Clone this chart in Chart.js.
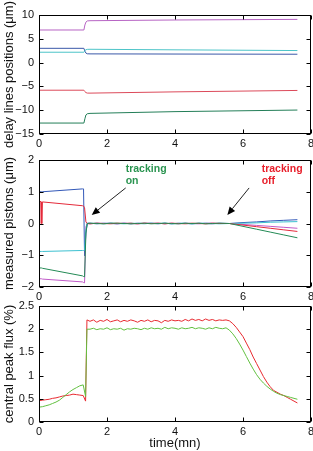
<!DOCTYPE html>
<html>
<head>
<meta charset="utf-8">
<script src="https://cdn.jsdelivr.net/npm/chart.js@4"></script>
<style>
  html, body { margin: 0; padding: 0; background: #fff; }
  #wrap { position: relative; width: 313px; height: 451px; overflow: hidden; }
  canvas { position: absolute; left: 0; }
</style>
</head>
<body>
<div id="wrap">
  <canvas id="delay" width="313" height="150" style="top:0"></canvas>
  <canvas id="piston" width="313" height="150" style="top:150px"></canvas>
  <canvas id="flux" width="313" height="151" style="top:300px"></canvas>
</div>
<script>
// --- panel 1: delay lines positions (um)
const delayTime = [0, 1.32, 1.35, 1.38, 1.42, 1.5, 4.0, 7.6];
const delayPurple = [6.85, 6.85, 7.9, 8.5, 8.75, 8.8, 8.95, 9.08];
const delayBlue = [3.0, 3.0, 2.4, 2.0, 1.85, 1.83, 1.8, 1.76];
const delayCyan = [2.18, 2.18, 2.5, 2.7, 2.78, 2.8, 2.68, 2.53];
const delayRed = [-5.8, -5.8, -6.1, -6.3, -6.4, -6.41, -6.15, -5.85];
const delayGreen = [-12.7, -12.7, -11.8, -11.0, -10.75, -10.67, -10.3, -9.97];

// --- panel 2: measured pistons (um)
const pistonTime = [0, 0.02, 0.03, 0.07, 0.08, 0.1, 1.28, 1.31, 1.34, 1.38, 1.42,
  1.5, 1.7, 1.9, 2.1, 2.3, 2.5, 2.7, 2.9, 3.1, 3.3, 3.5, 3.7, 3.9, 4.1, 4.3, 4.5, 4.7, 4.9, 5.1, 5.3,
  5.6, 6.0, 6.4, 6.8, 7.2, 7.6];
const pistonBlue = [1.0, 1.0, 1.0, 1.0, 1.0, 1.0, 1.09, 1.09, -1.02, -0.3, 0.01,
  0.01, -0.01, 0.01, 0.0, -0.01, 0.01, -0.01, 0.01, 0.0, 0.01, -0.01, 0.01, -0.01, 0.01, 0.0, -0.01, 0.01, 0.0, -0.01, 0.01,
  0.0, 0.03, 0.05, 0.08, 0.1, 0.12];
const pistonRed = [0.7, 0.0, 0.7, 0.68, 0.0, 0.68, 0.56, 0.55, 0.5, 0.05, 0.0,
  -0.01, 0.01, 0.0, -0.01, 0.01, 0.0, 0.01, -0.01, 0.01, 0.0, 0.01, -0.01, 0.01, 0.0, -0.01, 0.01, 0.0, -0.01, 0.01, 0.0,
  0.0, -0.05, -0.1, -0.15, -0.2, -0.25];
const pistonCyan = [-0.88, -0.88, -0.88, -0.88, -0.88, -0.88, -0.85, -0.85, -0.84, -0.2, 0.0,
  0.0, 0.01, -0.01, 0.01, 0.0, -0.01, 0.01, 0.0, -0.01, 0.01, 0.0, 0.01, -0.01, 0.0, 0.01, -0.01, 0.0, 0.01, 0.0, -0.01,
  0.0, 0.01, 0.02, 0.04, 0.05, 0.06];
const pistonGreen = [-1.4, -1.4, -1.4, -1.4, -1.4, -1.41, -1.65, -1.67, -1.68, -0.3, 0.0,
  0.01, 0.0, -0.01, 0.01, 0.01, 0.0, -0.01, 0.0, 0.01, -0.01, 0.0, 0.01, 0.0, -0.01, 0.01, 0.0, 0.01, -0.01, 0.0, 0.01,
  0.0, -0.09, -0.18, -0.27, -0.36, -0.45];
const pistonPurple = [-1.74, -1.74, -1.74, -1.74, -1.74, -1.75, -1.84, -1.86, -1.87, -0.1, 0.0,
  -0.01, 0.01, 0.0, 0.01, -0.01, 0.01, 0.0, -0.01, 0.01, 0.0, 0.01, -0.01, 0.01, -0.01, 0.01, 0.0, -0.01, 0.01, 0.01, 0.0,
  0.0, -0.03, -0.06, -0.09, -0.12, -0.15];

// --- panel 3: central peak flux (%)
const fluxTime = [0, 0.1, 0.2, 0.3, 0.4, 0.5, 0.6, 0.7, 0.8, 0.9, 1.0, 1.1, 1.2, 1.3, 1.37, 1.41,
  1.5, 1.6, 1.7, 1.8, 1.9, 2.0, 2.1, 2.2, 2.3, 2.4, 2.5, 2.6, 2.7, 2.8, 2.9, 3.0, 3.1, 3.2, 3.3, 3.4,
  3.5, 3.6, 3.7, 3.8, 3.9, 4.0, 4.1, 4.2, 4.3, 4.4, 4.5, 4.6, 4.7, 4.8, 4.9, 5.0, 5.1, 5.2, 5.3, 5.4, 5.5,
  5.6, 5.7, 5.8, 5.9, 6.0, 6.1, 6.2, 6.3, 6.4, 6.5, 6.6, 6.7, 6.8, 6.9, 7.0, 7.1, 7.2, 7.3, 7.4, 7.5, 7.6];
const fluxRed = [0.46, 0.47, 0.48, 0.49, 0.51, 0.52, 0.54, 0.56, 0.57, 0.58, 0.60, 0.59, 0.58, 0.57, 0.45, 2.20,
  2.17, 2.20, 2.15, 2.19, 2.17, 2.21, 2.16, 2.18, 2.20, 2.16, 2.19, 2.17, 2.20, 2.18, 2.15, 2.19, 2.17, 2.20, 2.16, 2.19,
  2.18, 2.14, 2.19, 2.17, 2.20, 2.18, 2.19, 2.17, 2.21, 2.18, 2.22, 2.19, 2.21, 2.18, 2.22, 2.19, 2.21, 2.18, 2.20, 2.19, 2.20,
  2.18, 2.12, 2.04, 1.94, 1.84, 1.70, 1.56, 1.40, 1.26, 1.12, 0.98, 0.86, 0.76, 0.68, 0.64, 0.60, 0.57, 0.53, 0.49, 0.45, 0.41];
const fluxGreen = [0.32, 0.33, 0.35, 0.37, 0.40, 0.43, 0.47, 0.53, 0.59, 0.65, 0.70, 0.74, 0.78, 0.80, 0.55, 2.00,
  2.00, 2.02, 1.99, 2.01, 2.00, 2.03, 1.99, 2.01, 2.00, 2.02, 1.98, 2.01, 2.00, 2.02, 2.01, 1.99, 2.02, 2.00, 2.03, 2.01,
  2.02, 2.00, 2.04, 2.01, 2.03, 2.02, 2.00, 2.03, 2.01, 2.02, 2.04, 2.01, 2.03, 2.02, 2.00, 2.03, 2.01, 2.04, 2.02, 2.01, 2.03,
  1.98, 1.90, 1.80, 1.68, 1.55, 1.41, 1.27, 1.14, 1.02, 0.92, 0.84, 0.77, 0.71, 0.66, 0.62, 0.59, 0.57, 0.55, 0.53, 0.51, 0.49];

const FONT = "'Liberation Sans', Arial, Helvetica, sans-serif";
const INK = '#111';

function pts(xs, ys) {
  return xs.map((x, i) => ({ x, y: ys[i] }));
}

function line(xs, ys, color) {
  return {
    data: pts(xs, ys),
    borderColor: color,
    borderWidth: 1,
    pointRadius: 0,
    tension: 0,
    fill: false,
  };
}

function fmt(v) {
  return String(v).replace('-', '\u2212');
}

// box around the axes with inward ticks, matlab style
const framePlugin = {
  id: 'frame',
  afterDraw(chart) {
    const { ctx, chartArea: a, scales } = chart;
    const L = a.left + 0.5, R = a.right - 0.5, T = a.top + 0.5, B = a.bottom - 0.5;
    ctx.save();
    ctx.strokeStyle = '#000';
    ctx.lineWidth = 1;
    ctx.strokeRect(L, T, R - L, B - T);
    ctx.beginPath();
    for (const t of scales.x.ticks) {
      const px = Math.round(scales.x.getPixelForValue(t.value)) + 0.5;
      ctx.moveTo(px, B); ctx.lineTo(px, B - 4);
      ctx.moveTo(px, T); ctx.lineTo(px, T + 4);
    }
    for (const t of scales.y.ticks) {
      const py = Math.round(scales.y.getPixelForValue(t.value)) + 0.5;
      ctx.moveTo(L, py); ctx.lineTo(L + 4, py);
      ctx.moveTo(R, py); ctx.lineTo(R - 4, py);
    }
    ctx.stroke();
    ctx.restore();
  },
};

function arrow(ctx, x0, y0, x1, y1) {
  const ang = Math.atan2(y1 - y0, x1 - x0);
  const len = 8, half = 3.5;
  const bx = x1 - len * Math.cos(ang), by = y1 - len * Math.sin(ang);
  ctx.beginPath();
  ctx.moveTo(x0, y0);
  ctx.lineTo(bx, by);
  ctx.stroke();
  ctx.beginPath();
  ctx.moveTo(x1, y1);
  ctx.lineTo(bx + half * Math.sin(ang), by - half * Math.cos(ang));
  ctx.lineTo(bx - half * Math.sin(ang), by + half * Math.cos(ang));
  ctx.closePath();
  ctx.fill();
}

const notePlugin = {
  id: 'notes',
  afterDraw(chart) {
    const { ctx, scales: { x, y } } = chart;
    ctx.save();
    ctx.font = `bold 10.5px ${FONT}`;
    ctx.textBaseline = 'middle';
    ctx.textAlign = 'left';
    ctx.fillStyle = '#2a9450';
    ctx.fillText('tracking', x.getPixelForValue(2.55), y.getPixelForValue(1.7));
    ctx.fillText('on', x.getPixelForValue(2.55), y.getPixelForValue(1.32));
    ctx.fillStyle = '#e8202c';
    ctx.fillText('tracking', x.getPixelForValue(6.55), y.getPixelForValue(1.7));
    ctx.fillText('off', x.getPixelForValue(6.55), y.getPixelForValue(1.32));
    ctx.strokeStyle = '#222';
    ctx.fillStyle = '#000';
    ctx.lineWidth = 1;
    arrow(ctx, x.getPixelForValue(2.55), y.getPixelForValue(1.12), x.getPixelForValue(1.55), y.getPixelForValue(0.27));
    arrow(ctx, x.getPixelForValue(6.18), y.getPixelForValue(1.12), x.getPixelForValue(5.54), y.getPixelForValue(0.27));
    ctx.restore();
  },
};

function makeChart(id, datasets, y, o) {
  return new Chart(document.getElementById(id), {
    type: 'line',
    data: { datasets },
    plugins: [framePlugin].concat(o.plugins || []),
    options: {
      responsive: false,
      animation: false,
      events: [],
      layout: { padding: { top: o.top, left: 0, right: 2, bottom: 0 } },
      plugins: { legend: { display: false }, tooltip: { enabled: false } },
      scales: {
        x: {
          type: 'linear', min: 0, max: 8,
          grid: { display: false, drawTicks: false },
          border: { display: false },
          ticks: { stepSize: 2, padding: 3, color: INK, font: { family: FONT, size: 11 }, maxRotation: 0, callback: fmt },
          title: { display: !!o.xTitle, text: o.xTitle || '', color: INK, padding: 0, font: { family: FONT, size: 13 } },
          afterFit(s) { s.height = o.xh; s.paddingLeft = 0; s.paddingRight = 0; },
        },
        y: {
          min: y[0], max: y[1],
          grid: { display: false, drawTicks: false },
          border: { display: false },
          ticks: { stepSize: y[2], padding: 5, color: INK, font: { family: FONT, size: 11 }, callback: fmt },
          title: { display: true, text: o.yTitle, color: INK, padding: { top: 2, bottom: 0 }, font: { family: FONT, size: 13 } },
          afterFit(s) { s.width = 39; s.paddingTop = 0; s.paddingBottom = 0; },
        },
      },
    },
  });
}

makeChart('delay', [
  line(delayTime, delayPurple, '#b764c4'),
  line(delayTime, delayCyan, '#4cc4c8'),
  line(delayTime, delayBlue, '#3a58a8'),
  line(delayTime, delayRed, '#dc4a5a'),
  line(delayTime, delayGreen, '#237e58'),
], [-15, 10, 5], { top: 15, xh: 16, yTitle: 'delay lines positions (\u03bcm)' });

makeChart('piston', [
  line(pistonTime, pistonGreen, '#238a55'),
  line(pistonTime, pistonRed, '#e42a3a'),
  line(pistonTime, pistonCyan, '#3cc0d0'),
  line(pistonTime, pistonPurple, '#c05ac8'),
  line(pistonTime, pistonBlue, '#3258b8'),
], [-2, 2, 1], { top: 10, xh: 13, yTitle: 'measured pistons (\u03bcm)', plugins: [notePlugin] });

makeChart('flux', [
  line(fluxTime, fluxGreen, '#62c040'),
  line(fluxTime, fluxRed, '#e82a30'),
], [0, 2.5, 0.5], { top: 6, xh: 29, yTitle: 'central peak flux (%)', xTitle: 'time(mn)' });
</script>
</body>
</html>
